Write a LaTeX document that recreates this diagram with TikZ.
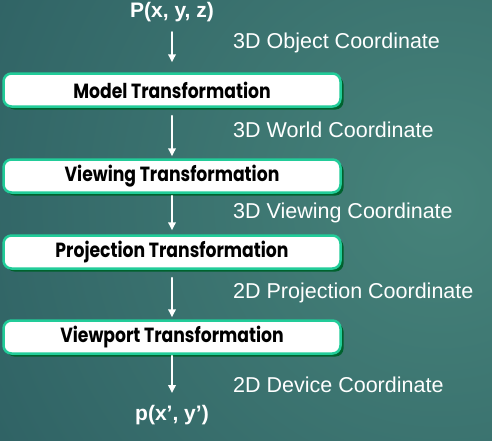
\documentclass[tikz,border=0pt]{standalone}
\usepackage{fontspec}
\setmainfont{Liberation Sans}
\newfontfamily\boxfont{Poppins}[FakeStretch=0.84]
\usetikzlibrary{arrows.meta,shadows}
\begin{document}
\begin{tikzpicture}[x=1pt,y=-1pt,line join=round,line cap=round,
	trans/.style={draw=boxgreen,line width=2.5pt,fill=white,rounded corners=8pt,
		minimum width=337pt,minimum height=33pt,inner sep=0pt,
		font=\boxfont\bfseries\fontsize{20.5}{22}\selectfont,
		drop shadow={shadow xshift=3pt,shadow yshift=-3pt,fill=shadowgreen,opacity=1}},
	coord/.style={anchor=west,text=white,inner sep=0pt,font=\fontsize{21.5}{24}\selectfont},
	pt/.style={text=white,inner sep=0pt,font=\bfseries\fontsize{21}{24}\selectfont},
	flow/.style={white,line width=1.8pt,-{Triangle[width=7.5pt,length=8pt]}}]
	\definecolor{bgdark}{HTML}{1A4350}
	\definecolor{bglight}{HTML}{46837A}
	\definecolor{boxgreen}{HTML}{22CC99}
	\definecolor{shadowgreen}{HTML}{00622E}
	% nền
	\begin{scope}
		\clip (0,0) rectangle (492,440);
		\shade[inner color=bglight,outer color=bgdark] (440,200) circle (1000);
	\end{scope}
	\useasboundingbox (0,0) rectangle (492,440);
	
	\node[pt] (P) at (172,12) {P(x, y, z)};
	\node[trans] (model) at (172,90) {Model Transformation};
	\node[trans] (viewing) at (172,176) {Viewing Transformation};
	\node[trans] (projection) at (172,252) {Projection Transformation};
	\node[trans] (viewport) at (172,337) {Viewport Transformation};
	\node[pt] (p) at (172,415) {p(x’, y’)};
	
	\node[coord] (c1) at (233,43) {3D Object Coordinate};
	\node[coord] (c2) at (233,130) {3D World Coordinate};
	\node[coord] (c3) at (233,213) {3D Viewing Coordinate};
	\node[coord] (c4) at (233,293) {2D Projection Coordinate};
	\node[coord] (c5) at (233,385) {2D Device Coordinate};
	
	\draw[flow,shorten <=10pt,shorten >=10pt] (P) -- (model);
	\draw[flow,shorten <=8pt,shorten >=2pt] (model) -- (viewing);
	\draw[flow,shorten <=2pt,shorten >=4pt] (viewing) -- (projection);
	\draw[flow,shorten <=8pt,shorten >=2pt] (projection) -- (viewport);
	\draw[flow,shorten <=1pt,shorten >=12pt] (viewport) -- (p);
\end{tikzpicture}
\end{document}
